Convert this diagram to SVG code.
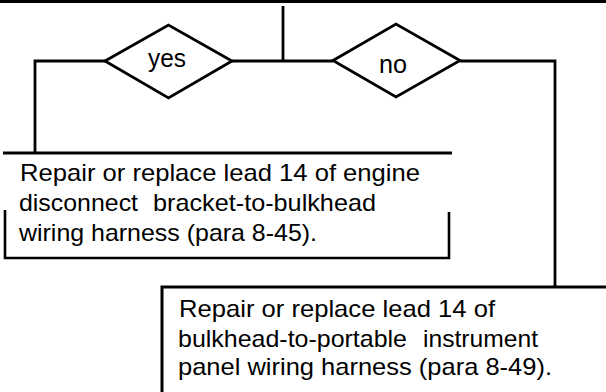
<svg xmlns="http://www.w3.org/2000/svg" width="606" height="392" viewBox="0 0 606 392">
<style>
.ln{fill:none;stroke:#000;stroke-width:2.8}
.bx{fill:none;stroke:#000;stroke-width:2.6}
.top{fill:none;stroke:#000;stroke-width:3}
.dm{fill:#fff;stroke:#000;stroke-width:2.8;stroke-linejoin:miter}
.t{font-family:"Liberation Sans",Arial,Helvetica,sans-serif;font-size:24px;fill:#000}
.lbl{font-family:"Liberation Sans",Arial,Helvetica,sans-serif;font-size:25px;fill:#000;text-anchor:middle}
</style>
<rect x="0" y="0" width="606" height="392" fill="#fff"/>
<rect x="0" y="0" width="606" height="3" fill="#000"/>
<g id="connectors">
<path class="ln" d="M283,6 V61"/>
<path class="ln" d="M35,153 V61 H105"/>
<path class="ln" d="M232,61 H333"/>
<path class="ln" d="M460,61 H555 V287"/>
</g>
<g id="node-yes">
<polygon class="dm" points="105,61 168.5,25 232,61 168.5,98"/>
<text class="lbl" x="167" y="67" textLength="38" lengthAdjust="spacingAndGlyphs">yes</text>
</g>
<g id="node-no">
<polygon class="dm" points="333,60.5 396,24 460,60.5 396,97"/>
<text class="lbl" x="393" y="72.5" textLength="28" lengthAdjust="spacingAndGlyphs">no</text>
</g>
<g id="node-repair-engine">
<path class="top" d="M3,153 H452"/>
<path class="bx" d="M5,210 V258 H449 V212"/>
<text class="t" x="20" y="181" textLength="400" lengthAdjust="spacingAndGlyphs">Repair or replace lead 14 of engine</text>
<text class="t" y="211"><tspan x="19" textLength="119" lengthAdjust="spacingAndGlyphs">disconnect</tspan><tspan x="153" textLength="223" lengthAdjust="spacingAndGlyphs">bracket-to-bulkhead</tspan></text>
<text class="t" x="19" y="241" textLength="298" lengthAdjust="spacingAndGlyphs">wiring harness (para 8-45).</text>
</g>
<g id="node-repair-panel">
<path class="top" d="M162,392 V287 H606"/>
<text class="t" x="179" y="317" textLength="316" lengthAdjust="spacingAndGlyphs">Repair or replace lead 14 of</text>
<text class="t" y="346.5"><tspan x="178" textLength="229" lengthAdjust="spacingAndGlyphs">bulkhead-to-portable</tspan><tspan x="423" textLength="115" lengthAdjust="spacingAndGlyphs">instrument</tspan></text>
<text class="t" x="178" y="375" textLength="374" lengthAdjust="spacingAndGlyphs">panel wiring harness (para 8-49).</text>
</g>
</svg>
